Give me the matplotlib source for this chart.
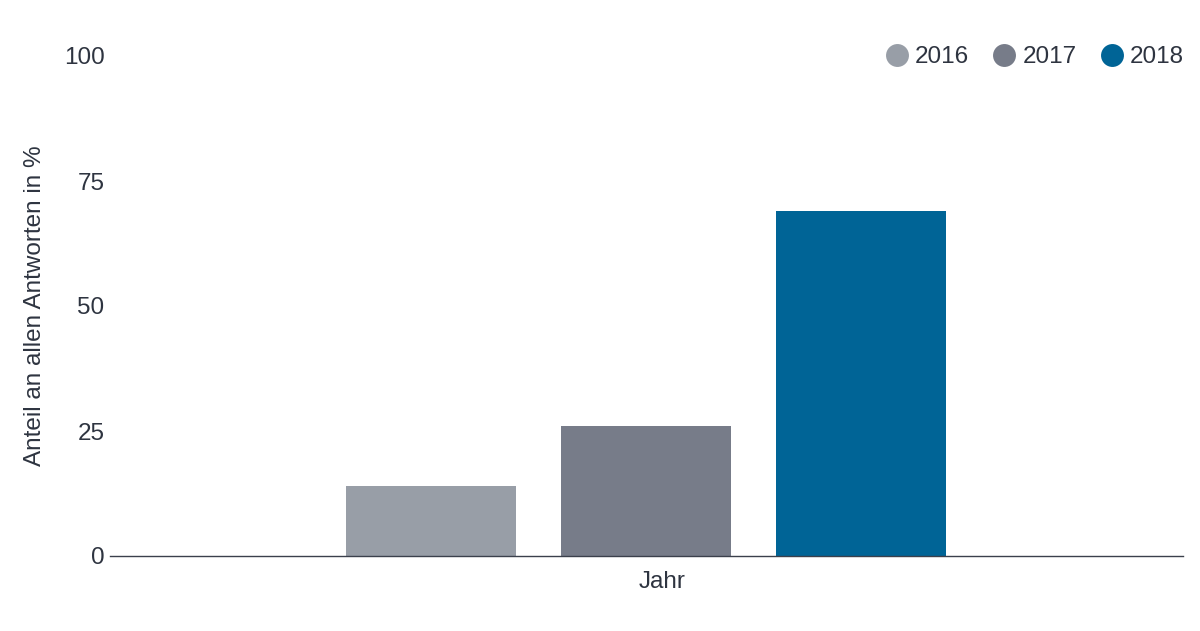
import matplotlib.pyplot as plt
from matplotlib.lines import Line2D

plt.rcParams['font.family'] = ['Liberation Sans', 'DejaVu Sans']

# Daten
jahre = ['2016', '2017', '2018']
anteile = [14, 26, 69]
farben = ['#989ea7', '#777c89', '#006496']
text_farbe = '#2e3440'

fig = plt.figure(figsize=(12, 6.31), dpi=100)
ax = fig.add_axes([110 / 1200, 75 / 631, 1073 / 1200, 500 / 631])

pos = list(range(len(jahre)))
ax.bar(pos, anteile, width=170 / 215, color=farben, zorder=2)

ax.set_xlim(-1.493, 3.498)
ax.set_ylim(0, 100)
ax.set_yticks([0, 25, 50, 75, 100])
ax.tick_params(axis='y', length=0, pad=4, labelsize=17.5, labelcolor=text_farbe)
ax.set_xticks([])

for s in ['top', 'right', 'left']:
    ax.spines[s].set_visible(False)
ax.spines['bottom'].set_color('#3b404c')
ax.spines['bottom'].set_linewidth(1)

ax.set_ylabel('Anteil an allen Antworten in %', fontsize=17.5, color=text_farbe)
ax.yaxis.set_label_coords(-0.06, 0.5, transform=ax.transAxes)
ax.set_xlabel('Jahr', fontsize=17.5, color=text_farbe)
ax.xaxis.set_label_coords(0.515, -0.031, transform=ax.transAxes)
ax.xaxis.label.set_verticalalignment('top')

handles = [Line2D([], [], marker='o', linestyle='none', markersize=16.5,
                  markerfacecolor=c, markeredgecolor='none') for c in farben]
fig.legend(handles, jahre, loc='upper right', bbox_to_anchor=(1.005, 0.961),
           ncol=3, frameon=False, fontsize=17.5, handletextpad=0.1,
           columnspacing=0.8, handlelength=1.3, labelcolor=text_farbe)

fig.savefig('out.png', dpi=100)
